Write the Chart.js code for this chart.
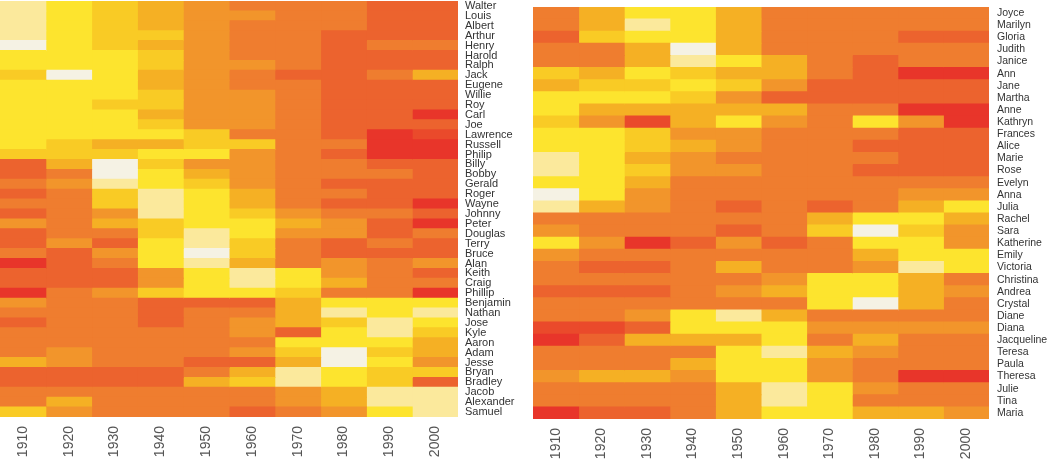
<!DOCTYPE html>
<html>
<head>
<meta charset="utf-8">
<script src="https://cdn.jsdelivr.net/npm/chart.js@4/dist/chart.umd.min.js"></script>
<style>
  body { margin: 0; background: #fff; }
  canvas { position: absolute; top: 0; }
  #boys { left: 0; }
  #girls { left: 525px; }
</style>
</head>
<body>
<canvas id="boys" width="525" height="465"></canvas>
<canvas id="girls" width="525" height="465"></canvas>
<script>
const decades = ['1910', '1920', '1930', '1940', '1950', '1960', '1970', '1980', '1990', '2000'];

const boyNames = ['Walter', 'Louis', 'Albert', 'Arthur', 'Henry', 'Harold', 'Ralph', 'Jack', 'Eugene', 'Willie',
  'Roy', 'Carl', 'Joe', 'Lawrence', 'Russell', 'Philip', 'Billy', 'Bobby', 'Gerald', 'Roger', 'Wayne',
  'Johnny', 'Peter', 'Douglas', 'Terry', 'Bruce', 'Alan', 'Keith', 'Craig', 'Phillip', 'Benjamin',
  'Nathan', 'Jose', 'Kyle', 'Aaron', 'Adam', 'Jesse', 'Bryan', 'Bradley', 'Jacob', 'Alexander', 'Samuel'];

const girlNames = ['Joyce', 'Marilyn', 'Gloria', 'Judith', 'Janice', 'Ann', 'Jane', 'Martha', 'Anne', 'Kathryn',
  'Frances', 'Alice', 'Marie', 'Rose', 'Evelyn', 'Anna', 'Julia', 'Rachel', 'Sara', 'Katherine', 'Emily',
  'Victoria', 'Christina', 'Andrea', 'Crystal', 'Diane', 'Diana', 'Jacqueline', 'Teresa', 'Paula',
  'Theresa', 'Julie', 'Tina', 'Maria'];

// heat level per name and decade: 1 = red ... 10 = near white
const boyLevels = [
  [9, 8, 7, 6, 5, 4, 4, 4, 3, 3],
  [9, 8, 7, 6, 5, 5, 4, 4, 3, 3],
  [9, 8, 7, 6, 5, 4, 4, 4, 3, 3],
  [9, 8, 7, 7, 5, 4, 4, 3, 3, 3],
  [10, 8, 7, 6, 5, 4, 4, 3, 4, 4],
  [8, 8, 8, 7, 5, 4, 4, 3, 3, 3],
  [8, 8, 8, 7, 5, 5, 4, 3, 3, 3],
  [7, 10, 8, 6, 5, 4, 3, 3, 4, 6],
  [8, 8, 8, 6, 5, 4, 4, 3, 3, 3],
  [8, 8, 8, 7, 5, 5, 4, 3, 3, 3],
  [8, 8, 7, 7, 5, 5, 4, 3, 3, 3],
  [8, 8, 8, 6, 5, 5, 4, 3, 3, 1],
  [8, 8, 8, 7, 5, 5, 4, 3, 3, 3],
  [8, 8, 8, 8, 7, 4, 4, 3, 1, 2],
  [8, 7, 6, 6, 7, 7, 4, 4, 1, 1],
  [7, 7, 7, 8, 8, 5, 4, 3, 1, 1],
  [3, 6, 10, 7, 5, 5, 4, 4, 3, 3],
  [3, 4, 10, 8, 6, 5, 4, 4, 4, 3],
  [4, 5, 9, 8, 7, 5, 4, 3, 3, 3],
  [3, 4, 7, 9, 8, 6, 4, 4, 3, 3],
  [4, 4, 7, 9, 8, 6, 4, 3, 3, 1],
  [3, 4, 5, 9, 8, 7, 5, 4, 4, 3],
  [5, 4, 6, 7, 8, 8, 6, 5, 3, 1],
  [3, 4, 4, 7, 9, 8, 5, 5, 3, 4],
  [3, 5, 3, 8, 9, 7, 4, 3, 4, 3],
  [4, 3, 5, 8, 10, 7, 4, 3, 3, 3],
  [1, 3, 4, 8, 9, 6, 4, 5, 4, 5],
  [3, 3, 3, 5, 8, 9, 8, 5, 4, 3],
  [3, 3, 3, 5, 8, 9, 8, 6, 4, 4],
  [1, 4, 5, 7, 8, 8, 7, 4, 4, 1],
  [5, 4, 4, 3, 3, 3, 6, 8, 8, 8],
  [4, 4, 4, 3, 4, 4, 6, 9, 8, 9],
  [3, 4, 4, 3, 4, 5, 6, 7, 9, 8],
  [4, 4, 4, 4, 4, 5, 3, 8, 9, 7],
  [4, 4, 4, 4, 4, 4, 8, 8, 8, 6],
  [4, 5, 4, 4, 4, 5, 7, 10, 7, 6],
  [6, 5, 4, 4, 3, 3, 6, 10, 8, 5],
  [3, 3, 3, 3, 4, 6, 9, 8, 7, 7],
  [3, 3, 3, 3, 6, 7, 9, 8, 7, 3],
  [4, 4, 4, 4, 4, 4, 5, 6, 9, 9],
  [4, 6, 4, 4, 4, 4, 5, 6, 9, 9],
  [7, 5, 4, 4, 4, 3, 4, 5, 8, 9]
];

const girlLevels = [
  [4, 6, 8, 8, 6, 4, 4, 4, 4, 4],
  [4, 6, 9, 8, 6, 4, 4, 4, 4, 4],
  [3, 7, 8, 8, 6, 4, 4, 4, 3, 3],
  [4, 4, 6, 10, 6, 4, 4, 4, 4, 4],
  [4, 4, 6, 9, 8, 6, 4, 3, 4, 4],
  [7, 6, 8, 7, 6, 6, 4, 3, 1, 1],
  [6, 7, 7, 8, 7, 5, 3, 3, 3, 3],
  [8, 8, 8, 7, 5, 3, 3, 3, 3, 3],
  [8, 6, 6, 6, 6, 6, 4, 4, 1, 1],
  [7, 5, 2, 6, 8, 5, 4, 8, 5, 1],
  [8, 8, 7, 5, 5, 4, 4, 4, 3, 3],
  [8, 8, 7, 6, 5, 4, 4, 3, 3, 3],
  [9, 8, 6, 5, 4, 4, 4, 4, 3, 3],
  [9, 8, 7, 5, 5, 4, 4, 3, 3, 3],
  [8, 8, 6, 4, 4, 4, 4, 4, 4, 4],
  [10, 8, 5, 4, 4, 4, 4, 4, 5, 5],
  [9, 6, 5, 4, 3, 4, 3, 4, 6, 8],
  [4, 4, 4, 4, 4, 4, 6, 8, 8, 6],
  [5, 4, 4, 4, 3, 4, 7, 10, 7, 5],
  [8, 5, 1, 3, 5, 3, 4, 8, 8, 5],
  [5, 4, 4, 4, 4, 4, 4, 6, 8, 8],
  [4, 3, 3, 4, 6, 4, 4, 5, 9, 8],
  [4, 4, 4, 4, 4, 5, 8, 8, 6, 4],
  [3, 3, 3, 4, 5, 6, 8, 8, 6, 5],
  [4, 4, 4, 4, 4, 4, 8, 10, 6, 4],
  [4, 4, 5, 8, 9, 6, 4, 4, 4, 4],
  [2, 2, 3, 8, 8, 8, 5, 5, 5, 5],
  [1, 3, 6, 6, 6, 8, 4, 6, 4, 4],
  [4, 4, 4, 4, 8, 9, 6, 5, 4, 4],
  [4, 4, 4, 6, 8, 8, 5, 4, 4, 4],
  [5, 6, 6, 5, 8, 8, 5, 4, 1, 1],
  [4, 4, 4, 4, 6, 9, 8, 5, 4, 4],
  [4, 4, 4, 4, 6, 9, 8, 4, 4, 4],
  [1, 3, 3, 4, 6, 8, 8, 6, 6, 5]
];

const heatColors = ['#e8352a', '#ea4a2b', '#ec632e', '#ef7d2f', '#f2952b',
  '#f5b024', '#f9cb25', '#fde42e', '#fbe99c', '#f5f2e4'];

function zeroPadding(axis) {
  axis.paddingTop = 0;
  axis.paddingBottom = 0;
  axis.paddingLeft = 0;
  axis.paddingRight = 0;
}

function drawHeatmap(id, names, levels, box) {
  const datasets = decades.map((d, c) => ({
    label: d,
    data: names.map(() => 1),
    backgroundColor: names.map((n, r) => heatColors[levels[r][c] - 1]),
    borderWidth: 0,
    inflateAmount: 0.5,
    barPercentage: 1,
    categoryPercentage: 1
  }));

  new Chart(document.getElementById(id), {
    type: 'bar',
    data: { labels: names, datasets: datasets },
    options: {
      indexAxis: 'y',
      responsive: false,
      animation: false,
      devicePixelRatio: 1,
      layout: { padding: { top: box.top, left: box.left, right: 0, bottom: 0 } },
      plugins: { legend: { display: false }, tooltip: { enabled: false } },
      scales: {
        x: {
          type: 'linear',
          stacked: true,
          min: 0,
          max: decades.length,
          grid: { display: false },
          border: { display: false },
          afterBuildTicks: (axis) => {
            axis.ticks = decades.map((d, i) => ({ value: i + 0.5 }));
          },
          afterFit: (axis) => {
            zeroPadding(axis);
            axis.height = 465 - box.bottom;
          },
          ticks: {
            callback: (v, i) => decades[i],
            minRotation: 90,
            maxRotation: 90,
            padding: 1,
            color: '#555',
            font: { family: 'Liberation Sans, Arial, sans-serif', size: 14 }
          }
        },
        y: {
          stacked: true,
          position: 'right',
          grid: { display: false, drawTicks: false },
          border: { display: false },
          afterFit: (axis) => {
            zeroPadding(axis);
            axis.width = box.axisWidth;
          },
          ticks: {
            autoSkip: false,
            padding: box.labelPad,
            color: '#333',
            font: { family: 'Liberation Sans, Arial, sans-serif', size: box.fontSize }
          }
        }
      }
    }
  });
}

drawHeatmap('boys', boyNames, boyLevels, { top: 1, left: 0, bottom: 417, axisWidth: 67, labelPad: 7, fontSize: 11 });
drawHeatmap('girls', girlNames, girlLevels, { top: 7, left: 8, bottom: 419, axisWidth: 61, labelPad: 8, fontSize: 10.5 });
</script>
</body>
</html>
